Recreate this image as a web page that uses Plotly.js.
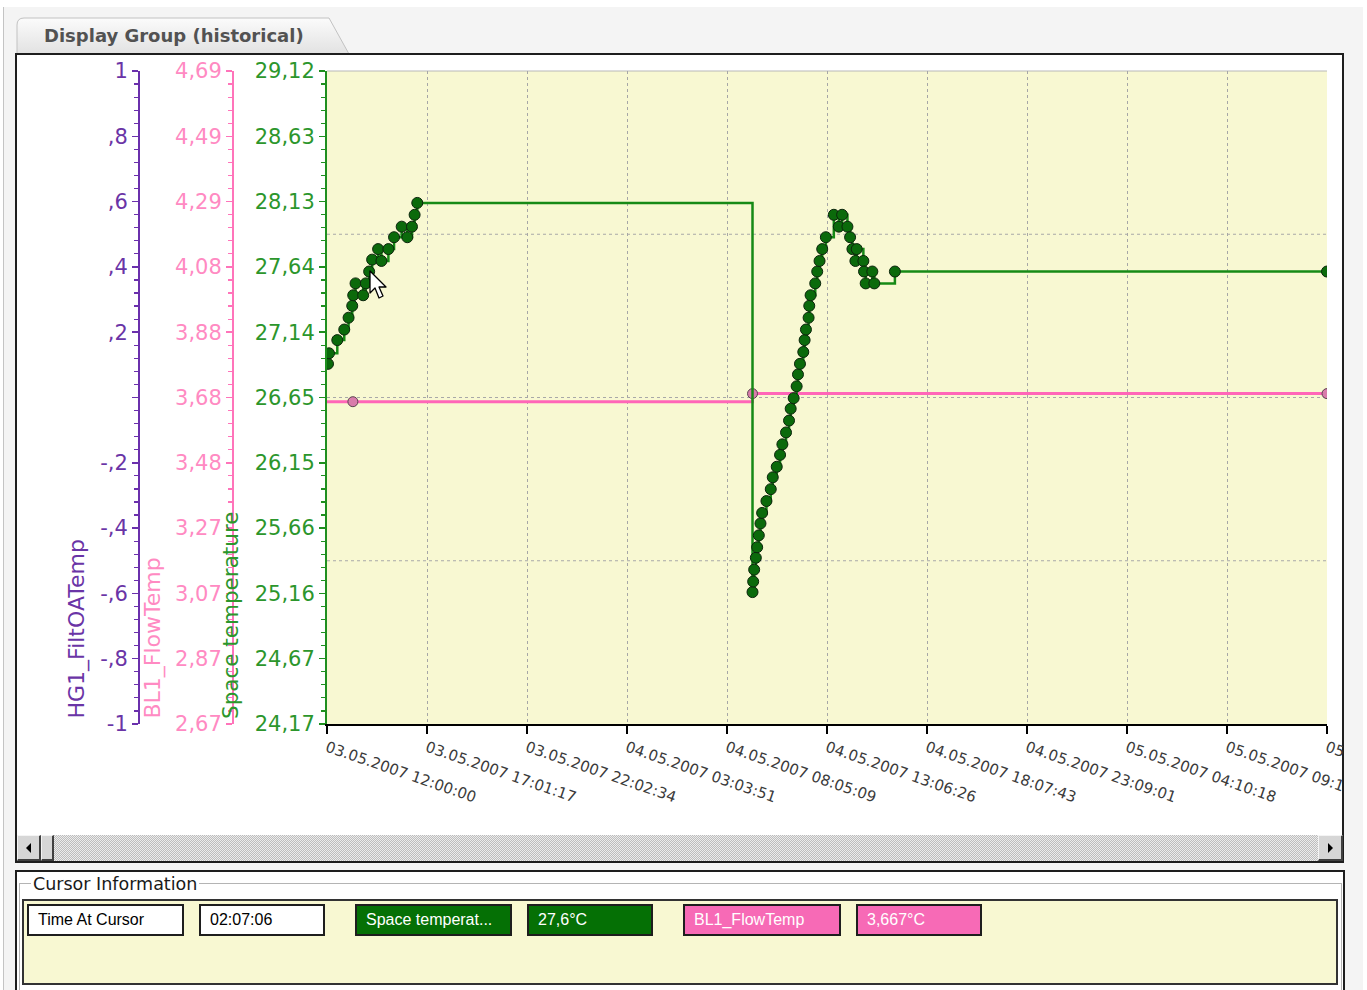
<!DOCTYPE html>
<html>
<head>
<meta charset="utf-8">
<script src="https://cdn.plot.ly/plotly-3.0.1.min.js"></script>
<style>
  html, body { margin:0; padding:0; }
  body { width:1367px; height:990px; position:relative; overflow:hidden; background:#ffffff; font-family:"DejaVu Sans", sans-serif; }
  .abs { position:absolute; box-sizing:border-box; }
  #win { left:3px; top:7px; width:1360px; height:990px; background:#f4f4f4; border-left:1px solid #c4c4c4; }
  #tabtext { left:44px; top:25px; font-weight:bold; font-size:18px; color:#525252; white-space:nowrap; }
  #panel { left:15px; top:53px; width:1329px; height:810px; background:#fff; border:2px solid #1e1e1e; }
  #rstrip { left:1328px; top:55px; width:14px; height:669px; background:#fff; z-index:3; }
  #scroll { left:17px; top:835px; width:1325px; height:26px;
    background-color:#e6e6e6;
    background-image: repeating-conic-gradient(#bdbdbd 0 25%, #ececec 0 50%);
    background-size: 2px 2px; }
  .btn { top:835px; height:26px; background:#d6d6d6; border-top:1px solid #f4f4f4; border-left:1px solid #f4f4f4; border-right:2px solid #404040; border-bottom:2px solid #404040; }
  #plot { left:0; top:0; width:1343px; height:835px; z-index:2; }
  #cpanel { left:15px; top:870px; width:1330px; height:140px; background:#fff; border:2px solid #1e1e1e; }
  #gbox { left:19px; top:883px; width:1323px; height:120px; border:1px solid #b4b4b4; }
  #glabel { left:31px; top:874px; background:#fff; padding:0 2px; font-size:17.5px; color:#1a1a1a; white-space:nowrap; }
  #ybox { left:22px; top:899px; width:1316px; height:86px; background:#f8f8d2; border:2px solid #333; }
  .cb { top:904px; height:32px; border:2px solid #1e1e1e; font-family:"Liberation Sans", sans-serif; font-size:16px; line-height:28px; padding-left:9px; white-space:nowrap; overflow:hidden; }
  #cursorArrow { left:368px; top:269px; z-index:5; }
</style>
</head>
<body>
<div id="win" class="abs"></div>
<svg class="abs" style="left:0;top:0;" width="360" height="60">
  <defs>
    <linearGradient id="tg" x1="0" y1="0" x2="0" y2="1">
      <stop offset="0" stop-color="#fbfbfb"/>
      <stop offset="1" stop-color="#e2e2e2"/>
    </linearGradient>
  </defs>
  <path d="M17,54 L17,25 Q17,18 24,18 L329,18 L349,54 Z" fill="url(#tg)" stroke="#c2c2c2" stroke-width="1"/>
</svg>
<div id="tabtext" class="abs">Display Group (historical)</div>
<div id="panel" class="abs"></div>
<div id="scroll" class="abs"></div>
<div class="abs btn" style="left:17px;width:24px;"></div>
<svg class="abs" style="left:25px;top:843px;" width="8" height="10"><path d="M6,0 L6,10 L1,5 Z" fill="#000"/></svg>
<div class="abs btn" style="left:41px;width:13px;"></div>
<div class="abs btn" style="left:1318px;width:25px;"></div>
<svg class="abs" style="left:1327px;top:843px;" width="8" height="10"><path d="M1,0 L1,10 L6,5 Z" fill="#000"/></svg>

<div id="plot" class="abs"></div>
<div id="rstrip" class="abs"></div>

<svg id="cursorArrow" class="abs" width="24" height="36">
  <path d="M2,2 L2,24 L7,19 L11,29 L15,27 L11,18 L18,18 Z" fill="#ffffff" stroke="#000" stroke-width="1.3" stroke-linejoin="round"/>
</svg>

<div id="cpanel" class="abs"></div>
<div id="gbox" class="abs"></div>
<div id="glabel" class="abs">Cursor Information</div>
<div id="ybox" class="abs"></div>
<div id="cb1" class="abs cb" style="left:27px;width:157px;background:#fff;color:#000;"></div>
<div id="cb2" class="abs cb" style="left:199px;width:126px;background:#fff;color:#000;"></div>
<div id="cb3" class="abs cb" style="left:355px;width:157px;background:#057005;color:#fff;"></div>
<div id="cb4" class="abs cb" style="left:527px;width:126px;background:#057005;color:#fff;"></div>
<div id="cb5" class="abs cb" style="left:683px;width:158px;background:#f76ab6;color:#fff;"></div>
<div id="cb6" class="abs cb" style="left:856px;width:126px;background:#f76ab6;color:#fff;"></div>

<script>
// ---------------- data ----------------
var spaceTempTimes = [
  '2007-05-03 12:03','2007-05-03 12:06','2007-05-03 12:31','2007-05-03 12:52','2007-05-03 13:05',
  '2007-05-03 13:16','2007-05-03 13:19','2007-05-03 13:26','2007-05-03 13:49','2007-05-03 13:57',
  '2007-05-03 14:07','2007-05-03 14:16','2007-05-03 14:34','2007-05-03 14:44','2007-05-03 15:05',
  '2007-05-03 15:22','2007-05-03 15:45','2007-05-03 16:02','2007-05-03 16:16','2007-05-03 16:24',
  '2007-05-03 16:32',
  '2007-05-04 09:22','2007-05-04 09:24','2007-05-04 09:27','2007-05-04 09:32','2007-05-04 09:36',
  '2007-05-04 09:41','2007-05-04 09:46','2007-05-04 09:51','2007-05-04 10:04','2007-05-04 10:17',
  '2007-05-04 10:23','2007-05-04 10:35','2007-05-04 10:45','2007-05-04 10:52','2007-05-04 11:03',
  '2007-05-04 11:12','2007-05-04 11:17','2007-05-04 11:26','2007-05-04 11:35','2007-05-04 11:39',
  '2007-05-04 11:45','2007-05-04 11:55','2007-05-04 11:59','2007-05-04 12:03','2007-05-04 12:11',
  '2007-05-04 12:13','2007-05-04 12:17','2007-05-04 12:31','2007-05-04 12:37','2007-05-04 12:44',
  '2007-05-04 12:52','2007-05-04 13:03','2007-05-04 13:27','2007-05-04 13:42','2007-05-04 13:52',
  '2007-05-04 14:08','2007-05-04 14:16','2007-05-04 14:23','2007-05-04 14:32','2007-05-04 14:36',
  '2007-05-04 14:56','2007-05-04 14:58','2007-05-04 15:03','2007-05-04 15:23','2007-05-04 15:29',
  '2007-05-04 16:31',
  '2007-05-05 14:12:52'
];
var spaceTempValues = [
  26.90,26.98,27.08,27.16,27.25,
  27.34,27.42,27.51,27.42,27.51,
  27.60,27.69,27.77,27.68,27.77,
  27.86,27.94,27.86,27.94,28.03,
  28.12,
  25.17,25.25,25.34,25.43,25.51,
  25.60,25.69,25.77,25.86,25.95,
  26.04,26.12,26.21,26.29,26.38,
  26.47,26.56,26.64,26.73,26.82,
  26.90,26.99,27.08,27.16,27.25,
  27.34,27.42,27.51,27.60,27.68,
  27.77,27.86,28.03,27.94,28.03,
  27.94,27.86,27.77,27.68,27.77,
  27.68,27.60,27.51,27.60,27.51,
  27.60,
  27.60
];
var flowTempTimes  = ['2007-05-03 11:00','2007-05-03 13:18','2007-05-04 09:22','2007-05-05 14:12:52'];
var flowTempValues = [3.667, 3.667, 3.692, 3.692];

var xTickLabels = ['03.05.2007 12:00:00','03.05.2007 17:01:17','03.05.2007 22:02:34','04.05.2007 03:03:51',
  '04.05.2007 08:05:09','04.05.2007 13:06:26','04.05.2007 18:07:43','04.05.2007 23:09:01',
  '05.05.2007 04:10:18','05.05.2007 09:11:35','05.05.2007 14:12:52'];
var greenTickLabels = ['24,17','24,67','25,16','25,66','26,15','26,65','27,14','27,64','28,13','28,63','29,12'];
var pinkTickLabels  = ['2,67','2,87','3,07','3,27','3,48','3,68','3,88','4,08','4,29','4,49','4,69'];
var purpleTickLabels = ['-1','-,8','-,6','-,4','-,2','',',2',',4',',6',',8','1'];
var purpleTickValues = [-1,-0.8,-0.6,-0.4,-0.2,0,0.2,0.4,0.6,0.8,1];

var cursorInfo = ['Time At Cursor','02:07:06','Space temperat...','27,6°C','BL1_FlowTemp','3,667°C'];

// ---------------- helpers ----------------
function num(s){ return parseFloat(s.replace(',', '.')); }
function evenVals(labels){
  var lo = num(labels[0]), hi = num(labels[labels.length-1]), n = labels.length - 1;
  return labels.map(function(_, i){ return lo + i*(hi-lo)/n; });
}
function toIso(lbl){ // DD.MM.YYYY HH:MM:SS
  var d = lbl.split(' ')[0].split('.'), t = lbl.split(' ')[1];
  return d[2] + '-' + d[1] + '-' + d[0] + ' ' + t;
}
for (var i = 0; i < cursorInfo.length; i++) document.getElementById('cb' + (i+1)).textContent = cursorInfo[i];

var greenVals = evenVals(greenTickLabels);
var pinkVals = evenVals(pinkTickLabels);
var xTickVals = xTickLabels.map(toIso);

// layout geometry (pixels)
var L = 60, R = 1327, T = 71, B = 724, W = 1343, H = 835;
function px(x){ return (x - L) / (R - L); }
function py(y){ return (B - y) / (B - T); }

var PURPLE = '#6a30ac', PINK = '#ff74ba', GREEN = '#1f8f1f';
var PURPLE_T = '#6a34a6', PINK_T = '#ff8ac2', GREEN_T = '#2c962c';

var traces = [
  { x: flowTempTimes, y: flowTempValues, yaxis: 'y', type: 'scatter', mode: 'lines+markers',
    line: { shape: 'hv', color: '#ff66b8', width: 3 },
    marker: { size: 10, color: '#d97cab', line: { color: '#5a4450', width: 1 } },
    name: 'BL1_FlowTemp', hoverinfo: 'skip' },
  { x: spaceTempTimes, y: spaceTempValues, yaxis: 'y2', type: 'scatter', mode: 'lines+markers',
    line: { shape: 'hv', color: '#168a16', width: 2.5 },
    marker: { size: 11, color: '#0b6a0b', line: { color: '#0c250c', width: 1 } },
    name: 'Space temperature', hoverinfo: 'skip' },
  { x: [], y: [], yaxis: 'y3', type: 'scatter', mode: 'lines', name: 'HG1_FiltOATemp',
    line: { color: PURPLE } }
];

var xDom0 = px(327);
var gridDash = { color: '#a8a8a8', width: 1, dash: '3px,3px' };

var layout = {
  width: W, height: H,
  margin: { l: L, r: W - R, t: T, b: H - B, pad: 0 },
  paper_bgcolor: 'rgba(0,0,0,0)',
  plot_bgcolor: '#f8f8d2',
  showlegend: false,
  font: { family: 'DejaVu Sans', size: 14, color: '#333' },
  xaxis: {
    type: 'date', domain: [xDom0, 1],
    range: ['2007-05-03 12:00:00', '2007-05-05 14:12:52'],
    tickmode: 'array', tickvals: xTickVals, ticktext: xTickLabels,
    tickangle: 19, tickfont: { family: 'DejaVu Sans', size: 15, color: '#3a3a3a' },
    ticklabeloverflow: 'allow',
    ticks: 'outside', ticklen: 8, tickcolor: '#000', tickwidth: 1.2,
    showline: true, linecolor: '#000', linewidth: 1.5,
    showgrid: true, gridcolor: '#a6a6a6', griddash: '3px,3px', gridwidth: 1,
    zeroline: false, fixedrange: true, automargin: false
  },
  yaxis: { // pink, base
    anchor: 'free', position: px(233), side: 'left',
    range: [num(pinkTickLabels[0]), num(pinkTickLabels[pinkTickLabels.length-1])],
    tickmode: 'array', tickvals: pinkVals, ticktext: pinkTickLabels,
    tickfont: { family: 'DejaVu Sans', size: 21, color: PINK_T },
    ticks: 'outside', ticklen: 6, tickcolor: PINK, tickwidth: 1.5,
    minor: { tick0: pinkVals[0], dtick: (pinkVals[1]-pinkVals[0])/5, ticks: 'outside', ticklen: 4, tickcolor: PINK, tickwidth: 1.2, showgrid: false },
    showline: true, linecolor: PINK, linewidth: 2,
    showgrid: false, zeroline: false, fixedrange: true, automargin: false
  },
  yaxis2: { // green, at plot left edge
    overlaying: 'y', anchor: 'x', side: 'left',
    range: [num(greenTickLabels[0]), num(greenTickLabels[greenTickLabels.length-1])],
    tickmode: 'array', tickvals: greenVals, ticktext: greenTickLabels,
    tickfont: { family: 'DejaVu Sans', size: 21, color: GREEN_T },
    ticks: 'outside', ticklen: 6, tickcolor: GREEN, tickwidth: 1.5,
    minor: { tick0: greenVals[0], dtick: (greenVals[1]-greenVals[0])/5, ticks: 'outside', ticklen: 4, tickcolor: GREEN, tickwidth: 1.2, showgrid: false },
    showline: true, linecolor: GREEN, linewidth: 2,
    showgrid: false, zeroline: false, fixedrange: true, automargin: false
  },
  yaxis3: { // purple
    overlaying: 'y', anchor: 'free', position: px(139), side: 'left',
    range: [-1, 1],
    tickmode: 'array', tickvals: purpleTickValues, ticktext: purpleTickLabels,
    tickfont: { family: 'DejaVu Sans', size: 21, color: PURPLE_T },
    ticks: 'outside', ticklen: 6, tickcolor: PURPLE, tickwidth: 1.5,
    minor: { tick0: -1, dtick: 0.04, ticks: 'outside', ticklen: 4, tickcolor: PURPLE, tickwidth: 1.2, showgrid: false },
    showline: true, linecolor: PURPLE, linewidth: 2,
    showgrid: false, zeroline: false, fixedrange: true, automargin: false
  },
  shapes: [
    { type: 'line', xref: 'paper', yref: 'paper', x0: xDom0, x1: 1, y0: 1, y1: 1, layer: 'below',
      line: { color: '#b8b8b8', width: 1 } },
    { type: 'line', xref: 'paper', yref: 'paper', x0: xDom0, x1: 1, y0: 0.25, y1: 0.25, layer: 'below', line: gridDash },
    { type: 'line', xref: 'paper', yref: 'paper', x0: xDom0, x1: 1, y0: 0.5, y1: 0.5, layer: 'below', line: gridDash },
    { type: 'line', xref: 'paper', yref: 'paper', x0: xDom0, x1: 1, y0: 0.75, y1: 0.75, layer: 'below', line: gridDash }
  ],
  annotations: [
    { text: 'HG1_FiltOATemp', xref: 'paper', yref: 'paper', x: px(76), y: py(721), textangle: -90,
      xanchor: 'center', yanchor: 'bottom', showarrow: false,
      font: { family: 'DejaVu Sans', size: 22, color: PURPLE_T } },
    { text: 'BL1_FlowTemp', xref: 'paper', yref: 'paper', x: px(152), y: py(721), textangle: -90,
      xanchor: 'center', yanchor: 'bottom', showarrow: false,
      font: { family: 'DejaVu Sans', size: 22, color: PINK_T } },
    { text: 'Space temperature', xref: 'paper', yref: 'paper', x: px(230), y: py(721), textangle: -90,
      xanchor: 'center', yanchor: 'bottom', showarrow: false,
      font: { family: 'DejaVu Sans', size: 21.5, color: GREEN_T } }
  ]
};

Plotly.newPlot('plot', traces, layout, { staticPlot: true, displayModeBar: false });
</script>
</body>
</html>
